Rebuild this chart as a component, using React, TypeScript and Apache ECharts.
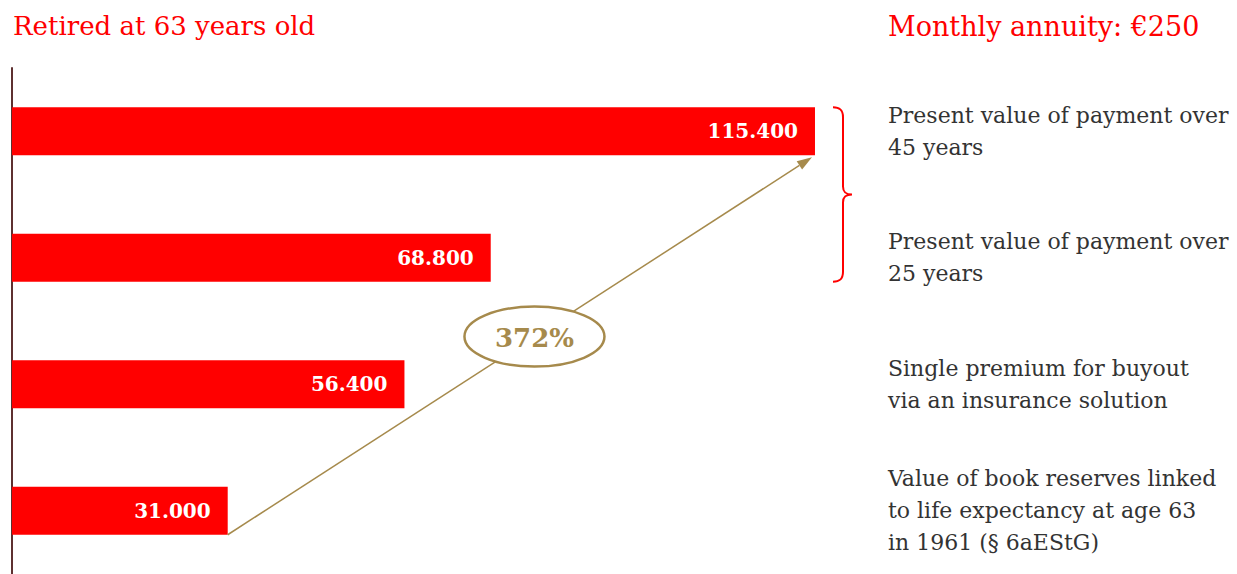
import React, { useEffect, useRef } from "react";
import * as echarts from "echarts";

const descriptions = [
  "Present value of payment over\n45 years",
  "Present value of payment over\n25 years",
  "Single premium for buyout\nvia an insurance solution",
  "Value of book reserves linked\nto life expectancy at age 63\nin 1961 (§ 6aEStG)",
];
const values = [115400, 68800, 56400, 31000];
const leftTitle = "Retired at 63 years old";
const rightTitle = "Monthly annuity: €250";
const growthLabel = "372%";

const RED = "#ff0000";
const GOLD = "#a68a4c";
const AXIS = "#5e3030";
const TEXT = "#333333";
const FONT = "'DejaVu Serif', serif";

const fmt = (v: number) => String(v).replace(/\B(?=(\d{3})+(?!\d))/g, ".");

const BRACE_H = 176;
echarts.graphic.registerShape(
  "brace",
  echarts.graphic.extendPath(
    "M0,0 C6,0 10,2 10,10 L10,80 C10,86 13,88 19,88 C13,88 10,90 10,96 L10,166 C10,174 6,176 0,176",
    {}
  )
);

export default function App() {
  const ref = useRef<HTMLDivElement>(null);
  useEffect(() => {
    if (!ref.current) return;
    const chart = echarts.init(ref.current, null, { renderer: "svg" });
    const option: any = {
      animation: false,
      title: [
        {
          text: leftTitle,
          left: 13,
          top: 13,
          padding: 0,
          textStyle: { color: RED, fontSize: 26, fontWeight: "normal", fontFamily: FONT },
        },
        {
          text: rightTitle,
          left: 888,
          top: 13,
          padding: 0,
          textStyle: { color: RED, fontSize: 27, fontWeight: "normal", fontFamily: FONT },
        },
      ],
      grid: { left: 12, right: 390, top: 68, height: 512 },
      xAxis: { type: "value", min: 0, max: 120000, show: false },
      yAxis: [
        {
          type: "category",
          data: descriptions,
          inverse: true,
          axisLine: { show: true, lineStyle: { color: AXIS, width: 2 } },
          axisTick: { show: false },
          axisLabel: { show: false },
        },
        {
          type: "category",
          data: descriptions,
          inverse: true,
          position: "right",
          axisLine: { show: false },
          axisTick: { show: false },
          axisLabel: {
            margin: 41,
            align: "left",
            color: TEXT,
            fontSize: 22,
            lineHeight: 32,
            fontFamily: FONT,
          },
        },
      ],
      series: [
        {
          type: "bar",
          data: values,
          yAxisIndex: 0,
          barWidth: 48,
          itemStyle: { color: RED },
          label: {
            show: true,
            position: "insideRight",
            distance: 17,
            color: "#ffffff",
            fontWeight: "bold",
            fontSize: 20,
            fontFamily: FONT,
            formatter: (p: any) => fmt(p.value),
          },
        },
      ],
    };
    chart.setOption(option);

    const px = (v: number, i: number) =>
      chart.convertToPixel({ gridIndex: 0 }, [v, descriptions[i]]) as number[];
    const last = values.length - 1;
    const p0 = px(values[0], 0);
    const p1 = px(values[1], 1);
    const pl = px(values[last], last);
    const half = 24;
    const x1 = pl[0];
    const y1 = pl[1] + half;
    const x2 = p0[0] - 3;
    const y2 = p0[1] + half + 2;
    const ang = Math.atan2(y2 - y1, x2 - x1);
    const ah = 15;
    const aw = 5;
    const bx = x2 - ah * Math.cos(ang);
    const by = y2 - ah * Math.sin(ang);
    const nx = -Math.sin(ang);
    const ny = Math.cos(ang);
    const t = 0.525;
    const cx = x1 + (x2 - x1) * t;
    const cy = y1 + (y2 - y1) * t;
    const braceTop = p0[1] - half;
    const braceBottom = p1[1] + half;
    const gridRight = chart.getWidth() - 390;

    chart.setOption({
      graphic: [
        {
          type: "line",
          shape: { x1, y1, x2: bx, y2: by },
          style: { stroke: GOLD, lineWidth: 1.5 },
          z: 10,
        },
        {
          type: "polygon",
          shape: {
            points: [
              [x2, y2],
              [bx + nx * aw, by + ny * aw],
              [bx - nx * aw, by - ny * aw],
            ],
          },
          style: { fill: GOLD },
          z: 10,
        },
        {
          type: "ellipse",
          shape: { cx, cy, rx: 70, ry: 30 },
          style: { fill: "#ffffff", stroke: GOLD, lineWidth: 2.5 },
          z: 11,
        },
        {
          type: "text",
          x: cx,
          y: cy + 1,
          style: {
            text: growthLabel,
            fill: GOLD,
            font: `bold 26px ${FONT}`,
            align: "center",
            verticalAlign: "middle",
          },
          z: 12,
        },
        {
          type: "brace",
          x: gridRight - 14,
          y: braceTop,
          scaleY: (braceBottom - braceTop) / BRACE_H,
          style: { stroke: RED, fill: "none", lineWidth: 2, strokeNoScale: true },
          z: 10,
        },
      ],
    });
    return () => chart.dispose();
  }, []);
  return (
    <div
      ref={ref}
      style={{ position: "fixed", left: 0, top: 0, width: 1237, height: 574, background: "#fff" }}
    />
  );
}
